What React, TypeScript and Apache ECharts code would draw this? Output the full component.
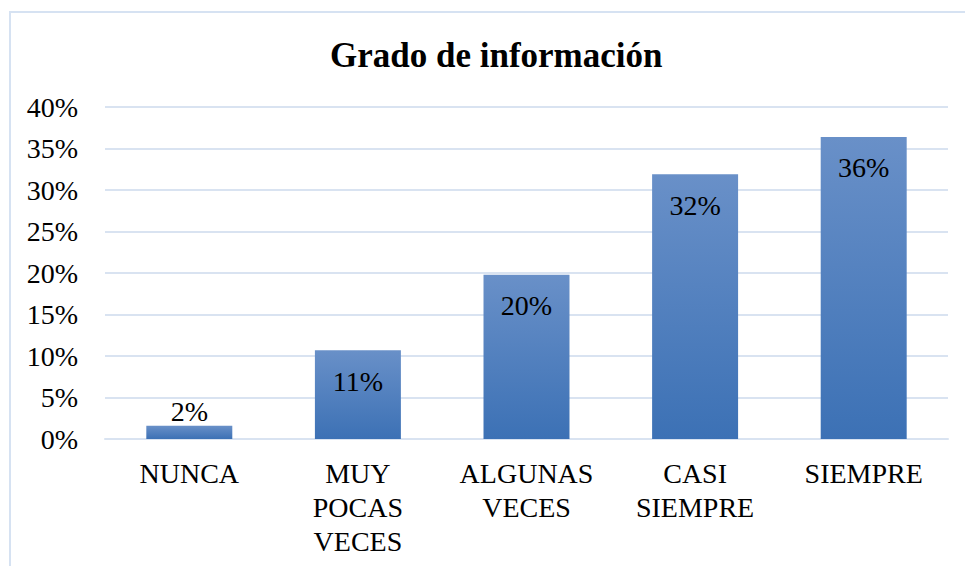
import React, { useEffect, useRef } from "react";
import * as echarts from "echarts";

const categories = ["NUNCA", "MUY POCAS VECES", "ALGUNAS VECES", "CASI SIEMPRE", "SIEMPRE"];
const values = [1.6, 10.7, 19.8, 31.9, 36.4];
const yTicks = [0, 5, 10, 15, 20, 25, 30, 35, 40];
const titleText = "Grado de información";

const FONT = "'Liberation Serif', 'Times New Roman', serif";

export default function App() {
  const ref = useRef<HTMLDivElement>(null);
  useEffect(() => {
    if (!ref.current) return;
    const chart = echarts.init(ref.current, undefined, { renderer: "svg" });
    const barColor = new echarts.graphic.LinearGradient(0, 0, 0, 1, [
      { offset: 0, color: "#6990c8" },
      { offset: 1, color: "#3c71b5" },
    ]);
    chart.setOption({
      animation: false,
      backgroundColor: "#ffffff",
      title: {
        text: titleText,
        left: 325,
        top: 33,
        textStyle: { fontFamily: FONT, fontSize: 35, fontWeight: "bold", color: "#000" },
      },
      graphic: [
        {
          type: "rect",
          shape: { x: 10, y: 12, width: 1000, height: 620 },
          style: { fill: "none", stroke: "#d6e2f2", lineWidth: 2 },
          silent: true,
        },
      ],
      grid: { left: 105, right: 17, top: 107, bottom: 127, containLabel: false },
      xAxis: {
        type: "category",
        data: categories,
        axisLine: { show: true, lineStyle: { color: "#d9e3f1", width: 2 } },
        axisTick: { show: false },
        axisLabel: {
          fontFamily: FONT,
          fontSize: 28,
          color: "#000",
          margin: 17,
          lineHeight: 34,
          interval: 0,
          formatter: (v: string) => v.split(" ").join("\n"),
        },
      },
      yAxis: {
        type: "value",
        min: yTicks[0],
        max: yTicks[yTicks.length - 1],
        interval: 5,
        axisLine: { show: false },
        axisTick: { show: false },
        splitLine: { lineStyle: { color: "#d9e3f1", width: 2 } },
        axisLabel: {
          fontFamily: FONT,
          fontSize: 28,
          color: "#000",
          margin: 27,
          formatter: (v: number) => v + "%",
        },
      },
      series: [
        {
          type: "bar",
          barWidth: "51%",
          data: values.map((v, i) => ({
            value: v,
            label:
              i === 0
                ? { position: "top", distance: 0 }
                : { position: "insideTop", distance: 17 },
          })),
          itemStyle: { color: barColor },
          label: {
            show: true,
            fontFamily: FONT,
            fontSize: 28,
            color: "#000",
            formatter: (p: any) => Math.round(p.value) + "%",
          },
        },
      ],
    });
    return () => chart.dispose();
  }, []);
  return <div ref={ref} style={{ width: 965, height: 566, position: "absolute", left: 0, top: 0 }} />;
}
